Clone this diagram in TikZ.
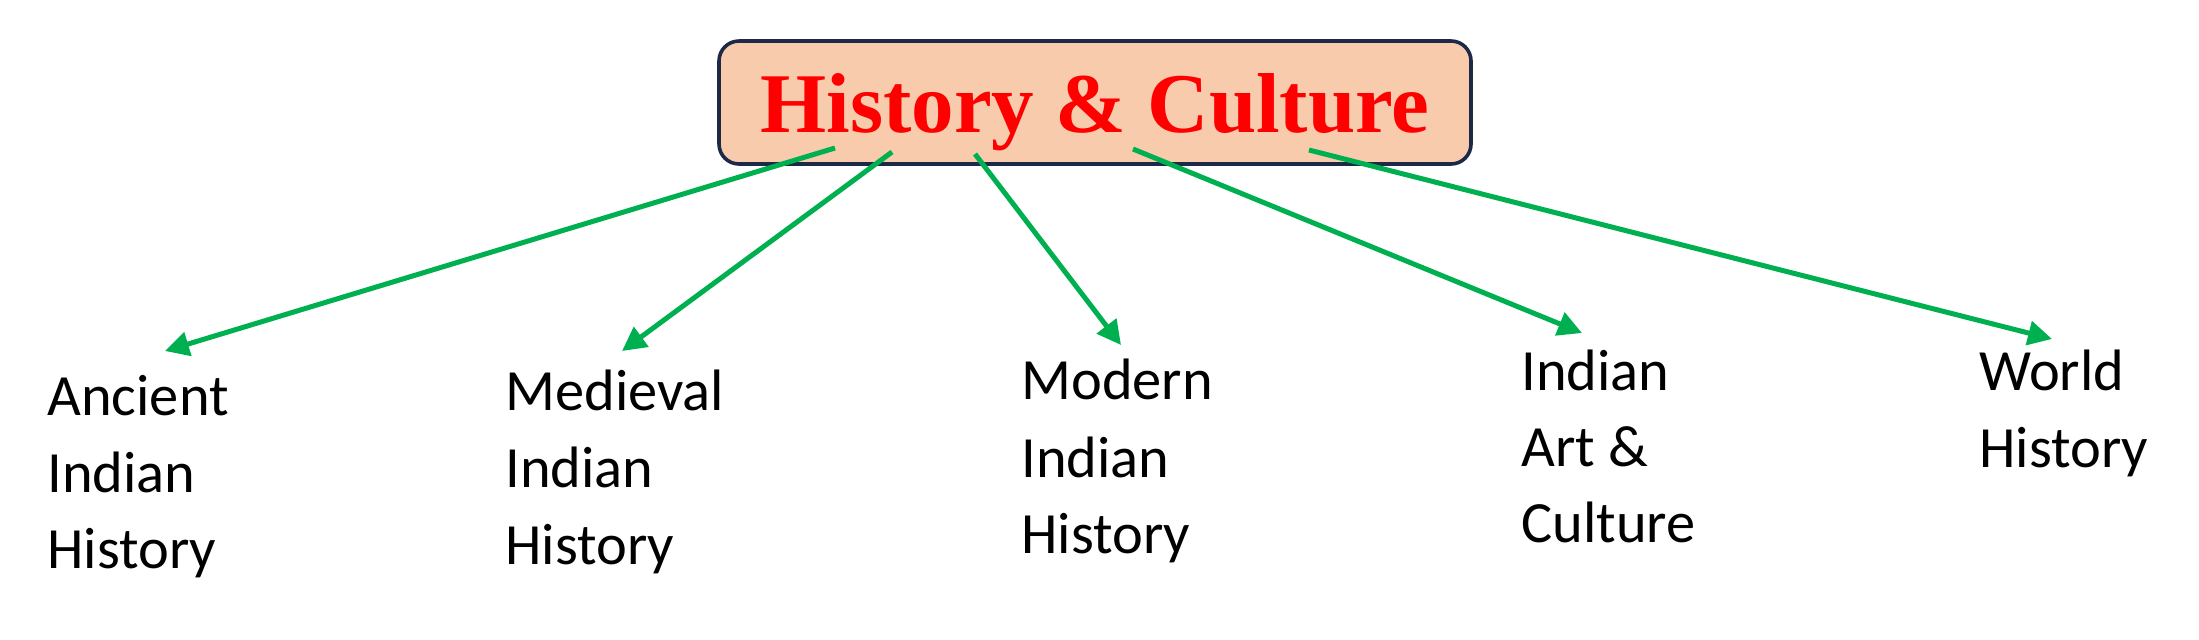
\documentclass[tikz,border=0pt]{standalone}
\usepackage{fontspec}
\setmainfont{Carlito}
\newfontfamily\titlefont{Liberation Serif}
\usetikzlibrary{arrows.meta}
\definecolor{peach}{HTML}{F8CBAD}
\definecolor{navy}{HTML}{1C2A48}
\definecolor{arrgreen}{HTML}{00B050}
\definecolor{titlered}{HTML}{FF0000}
\tikzset{
  titlebox/.style={draw=navy, line width=1.8pt, fill=peach, rounded corners=10pt,
    minimum width=376pt, minimum height=61.5pt, inner sep=0pt,
    text height=40pt, text depth=10.5pt,
    font=\titlefont\bfseries\fontsize{42.5}{50}\selectfont, text=titlered},
  lbl/.style={anchor=base west, inner sep=0pt, font=\fontsize{29.2}{36}\selectfont, text=black},
  conn/.style={draw=arrgreen, line width=2.5pt, -{Triangle[length=12pt,width=12pt]}}
}
\begin{document}
\begin{tikzpicture}[x=0.5pt,y=-0.5pt]
\useasboundingbox (0,0) rectangle (2199,639);
\node[titlebox] (hc) at (1095,102.5) {History \& Culture};
% labels
\node[lbl] (anc1) at (47,415) {Ancient};
\node[lbl] (anc2) at (47,492) {Indian};
\node[lbl] (anc3) at (47,568) {History};
\node[lbl] (med1) at (505,410) {Medieval};
\node[lbl] (med2) at (505,487) {Indian};
\node[lbl] (med3) at (505,564) {History};
\node[lbl] (mod1) at (1021,399) {Modern};
\node[lbl] (mod2) at (1021,477) {Indian};
\node[lbl] (mod3) at (1021,553) {History};
\node[lbl] (art1) at (1521,390) {Indian};
\node[lbl] (art2) at (1521,466) {Art \&};
\node[lbl] (art3) at (1521,542) {Culture};
\node[lbl] (wor1) at (1979,390) {World};
\node[lbl] (wor2) at (1979,467) {History};
% connector ends
\coordinate (s1) at (835,148);
\coordinate (s2) at (892,152);
\coordinate (s3) at (975,154);
\coordinate (s4) at (1133,149);
\coordinate (s5) at (1309,150);
\coordinate (t1) at (165,351);
\coordinate (t2) at (622,351);
\coordinate (t3) at (1121,345);
\coordinate (t4) at (1582,333);
\coordinate (t5) at (2052,339);
\draw[conn] (s1) -- (t1);
\draw[conn] (s2) -- (t2);
\draw[conn] (s3) -- (t3);
\draw[conn] (s4) -- (t4);
\draw[conn] (s5) -- (t5);
\end{tikzpicture}
\end{document}
